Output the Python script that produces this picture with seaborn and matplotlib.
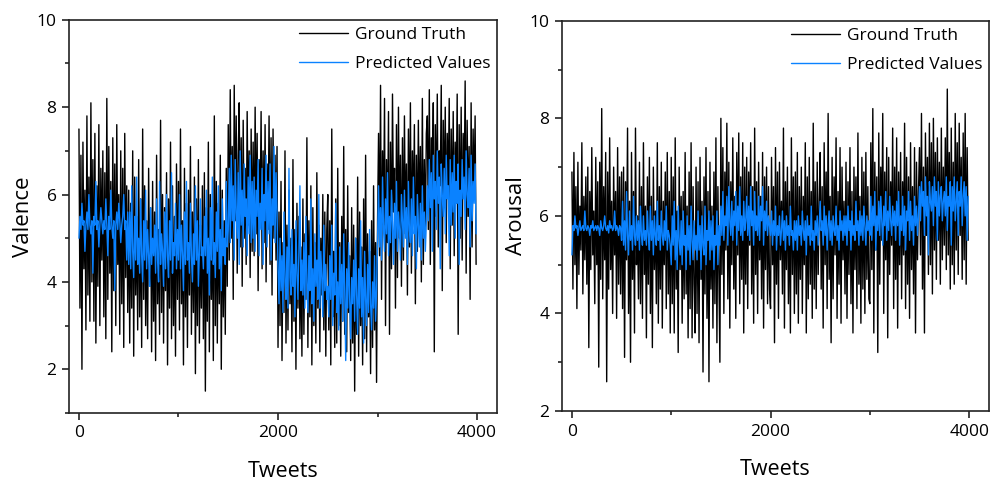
import numpy as np
import pandas as pd
import matplotlib
matplotlib.use("Agg")
import matplotlib.pyplot as plt
from matplotlib.ticker import MultipleLocator
import seaborn as sns

# valores lidos a cada 10 tweets (aprox.), 25 por linha = 250 tweets
valence_truth = [
    7.5, 3.4, 6.9, 2.0, 7.2, 4.3, 6.1, 2.9, 7.8, 3.7, 6.4, 3.1, 8.1, 4.0, 6.8, 3.1, 7.4, 2.6, 6.2, 3.9, 7.6, 3.0, 6.6, 4.5, 7.0,
    3.2, 6.5, 2.7, 8.2, 3.6, 7.1, 4.2, 6.3, 2.4, 7.3, 3.8, 6.7, 3.0, 7.6, 4.4, 6.0, 2.8, 7.0, 3.5, 6.6, 2.5, 7.4, 4.1, 6.2, 3.3,
    6.1, 2.6, 5.8, 3.4, 7.0, 2.3, 6.4, 3.7, 5.5, 2.9, 6.8, 3.2, 5.9, 2.5, 7.5, 3.6, 6.2, 3.0, 5.4, 2.7, 6.6, 3.9, 5.7, 2.4, 6.3,
    3.1, 5.6, 2.2, 6.9, 3.5, 5.2, 2.8, 7.7, 3.3, 6.0, 2.6, 5.7, 3.8, 6.5, 2.1, 5.9, 3.4, 7.2, 2.7, 6.2, 3.0, 5.5, 2.3, 6.7, 3.6,
    6.3, 2.9, 7.5, 3.5, 5.4, 2.1, 6.6, 3.2, 5.8, 2.5, 6.1, 3.7, 7.1, 2.8, 5.6, 3.3, 6.4, 1.9, 5.9, 3.0, 6.8, 2.6, 5.3, 3.4, 6.2,
    2.7, 6.5, 1.5, 5.7, 3.1, 7.2, 2.4, 6.0, 3.6, 5.5, 2.2, 7.8, 3.0, 6.3, 2.6, 5.8, 3.5, 6.9, 2.0, 6.1, 3.2, 5.4, 2.8, 6.6, 3.9,
    7.6, 4.5, 8.4, 5.0, 7.1, 3.6, 8.5, 5.4, 7.8, 4.2, 6.9, 8.1, 4.8, 7.3, 3.9, 7.7, 5.0, 6.6, 4.4, 7.9, 5.3, 7.0, 4.1, 7.5, 4.7,
    7.2, 4.6, 8.0, 5.1, 7.4, 3.8, 6.8, 5.5, 7.9, 4.3, 7.0, 4.9, 7.6, 4.0, 6.7, 5.2, 7.8, 4.4, 7.3, 3.7, 7.5, 5.0, 6.9, 4.5, 7.1,
    2.5, 5.6, 3.0, 6.3, 2.2, 4.9, 3.3, 7.0, 2.6, 5.3, 2.9, 6.1, 3.5, 5.0, 2.4, 6.8, 3.1, 5.2, 2.0, 5.8, 3.4, 5.5, 2.7, 4.8, 2.3,
    5.9, 2.8, 5.1, 3.6, 7.3, 2.5, 5.4, 3.2, 6.2, 2.1, 5.7, 3.0, 4.9, 2.6, 6.5, 3.4, 5.3, 2.4, 5.0, 3.7, 6.0, 2.9, 5.6, 2.3, 5.2,
    6.0, 2.9, 5.4, 2.1, 7.5, 3.2, 4.7, 2.5, 5.9, 2.6, 6.6, 3.0, 4.9, 2.3, 5.5, 3.1, 7.1, 2.8, 5.2, 2.4, 6.2, 3.3, 4.6, 2.2, 5.7,
    2.6, 5.3, 1.5, 5.0, 2.8, 6.4, 2.3, 5.6, 3.0, 4.8, 2.1, 5.9, 2.7, 6.9, 2.4, 5.1, 3.2, 4.7, 1.9, 5.4, 2.5, 6.2, 2.9, 4.9, 1.7,
    5.4, 7.4, 4.6, 8.5, 3.6, 7.0, 5.3, 8.2, 3.0, 6.8, 4.9, 7.9, 2.8, 7.2, 4.3, 8.3, 5.6, 6.6, 3.4, 7.6, 4.1, 8.0, 5.0, 6.9, 3.9,
    7.3, 4.5, 7.8, 5.1, 6.7, 3.7, 7.5, 4.8, 8.1, 4.2, 7.0, 5.4, 7.6, 3.5, 6.9, 4.7, 7.7, 5.2, 7.1, 4.0, 8.2, 4.4, 6.8, 5.0, 7.4,
    7.8, 5.2, 8.4, 4.4, 7.3, 6.0, 8.1, 2.4, 7.6, 5.5, 8.3, 4.8, 7.0, 6.2, 8.5, 3.8, 7.7, 5.7, 8.0, 4.9, 7.4, 6.1, 8.2, 4.3, 7.5,
    5.3, 7.9, 4.6, 7.2, 5.8, 8.3, 2.8, 7.6, 5.0, 8.0, 4.5, 7.4, 6.0, 8.6, 4.2, 7.7, 5.5, 7.1, 3.6, 8.1, 4.8, 7.5, 5.9, 7.8, 4.4,
]
valence_pred = [
    5.0, 5.5, 5.2, 5.8, 5.3, 5.4, 4.7, 5.3, 5.6, 5.2, 6.0, 5.3, 5.1, 5.4, 4.2, 5.5, 5.3, 6.3, 5.2, 5.4, 4.8, 5.3, 5.7, 5.4, 5.1,
    5.4, 5.2, 5.9, 5.3, 4.6, 5.5, 5.2, 6.1, 5.3, 5.0, 5.4, 3.8, 5.3, 5.6, 5.2, 5.8, 5.4, 4.9, 5.3, 5.5, 6.0, 5.2, 5.4, 4.5, 5.6,
    4.4, 5.6, 4.3, 6.2, 4.7, 4.1, 5.5, 4.5, 6.4, 4.4, 5.0, 4.2, 5.9, 4.6, 4.0, 5.4, 4.5, 6.1, 4.3, 5.2, 4.6, 3.9, 5.7, 4.4, 5.0,
    4.6, 5.3, 4.2, 5.9, 4.5, 4.0, 6.3, 4.4, 5.1, 4.7, 3.9, 5.6, 4.3, 6.0, 4.6, 4.1, 5.4, 4.5, 6.5, 4.2, 4.9, 4.6, 5.8, 4.3, 5.2,
    4.5, 6.0, 4.3, 5.3, 4.6, 3.8, 5.6, 4.4, 6.3, 4.5, 4.9, 4.2, 5.8, 4.6, 4.0, 5.1, 4.4, 6.2, 4.5, 5.4, 3.9, 4.7, 5.9, 4.6, 4.8,
    4.3, 5.5, 4.6, 6.1, 4.2, 5.0, 3.7, 5.7, 4.5, 6.4, 4.4, 4.9, 4.1, 5.6, 4.7, 6.2, 4.3, 5.2, 3.8, 5.9, 4.6, 5.0, 4.4, 6.3, 4.8,
    5.2, 6.6, 4.9, 6.9, 5.4, 6.2, 4.5, 6.8, 5.6, 5.0, 6.5, 4.4, 7.0, 5.3, 6.1, 4.8, 6.7, 5.5, 5.9, 4.6, 6.4, 5.1, 6.9, 4.9, 6.3,
    5.0, 6.4, 4.7, 6.1, 5.5, 6.8, 4.6, 5.8, 5.2, 6.6, 4.4, 6.0, 5.4, 6.9, 4.8, 6.3, 5.1, 6.7, 4.5, 5.9, 5.3, 7.1, 4.9, 6.5, 5.6,
    4.3, 3.5, 5.0, 3.8, 4.6, 3.3, 5.6, 4.0, 3.6, 4.8, 3.4, 6.6, 4.1, 3.7, 5.2, 3.9, 4.4, 3.2, 5.4, 4.2, 3.6, 4.7, 6.2, 3.8, 4.5,
    3.7, 4.9, 3.4, 5.5, 4.0, 3.3, 4.6, 3.8, 5.9, 3.5, 4.3, 3.1, 5.1, 3.9, 4.5, 3.6, 6.0, 3.4, 4.7, 4.1, 3.2, 5.3, 3.8, 4.4, 3.6,
    3.9, 3.2, 4.6, 3.6, 5.3, 3.0, 4.2, 3.7, 5.8, 3.3, 4.0, 2.9, 4.8, 3.5, 4.4, 3.1, 5.1, 3.8, 2.2, 4.3, 3.4, 4.9, 3.6, 2.7, 4.1,
    3.5, 4.5, 3.1, 5.0, 3.7, 2.8, 4.3, 3.4, 5.4, 3.2, 4.1, 2.6, 4.7, 3.6, 3.0, 4.4, 3.3, 5.2, 3.5, 2.9, 4.0, 3.4, 4.6, 3.1, 3.8,
    5.0, 6.2, 4.8, 5.7, 4.5, 6.4, 5.2, 4.7, 5.9, 5.1, 6.5, 4.6, 5.5, 4.9, 6.1, 5.3, 4.4, 5.8, 5.0, 6.3, 4.7, 5.6, 5.2, 4.5, 6.0,
    5.4, 4.8, 6.1, 5.0, 5.7, 4.4, 6.3, 5.2, 4.9, 5.9, 4.6, 6.4, 5.1, 5.5, 4.3, 6.0, 5.3, 4.8, 5.8, 4.5, 6.2, 5.0, 5.6, 4.7, 5.4,
    6.2, 5.4, 6.8, 5.7, 6.5, 4.7, 6.9, 5.9, 6.3, 5.2, 7.0, 5.8, 6.4, 4.3, 6.7, 6.0, 5.5, 6.6, 5.1, 6.9, 5.9, 6.2, 4.6, 6.8, 5.3,
    6.5, 5.6, 6.9, 5.0, 6.3, 5.8, 6.7, 4.4, 6.1, 5.5, 6.8, 5.9, 6.4, 5.2, 7.0, 6.0, 5.7, 6.6, 4.8, 6.9, 5.4, 6.3, 5.8, 6.7, 5.1,
]
arousal_truth = [
    6.9, 4.5, 7.3, 5.0, 6.6, 4.1, 7.1, 4.8, 6.2, 5.3, 7.5, 4.4, 6.4, 5.1, 6.8, 4.6, 7.0, 3.3, 6.5, 4.9, 7.4, 5.2, 6.1, 4.2, 7.2,
    5.0, 6.7, 2.9, 7.1, 4.7, 8.2, 4.3, 6.6, 5.1, 7.3, 2.6, 6.9, 4.5, 7.6, 4.9, 6.3, 4.0, 7.0, 5.2, 6.5, 3.9, 7.4, 4.6, 6.8, 4.4,
    6.9, 4.1, 7.0, 3.1, 6.7, 5.1, 7.8, 4.0, 6.3, 3.0, 7.3, 4.7, 6.5, 3.6, 7.8, 5.0, 6.0, 4.3, 7.1, 4.2, 6.6, 3.9, 7.5, 4.8, 6.2,
    3.5, 6.8, 4.6, 7.2, 4.0, 6.4, 3.3, 7.0, 4.9, 6.1, 4.2, 7.5, 3.8, 6.6, 4.5, 7.1, 3.7, 6.3, 5.0, 6.9, 4.1, 7.3, 4.4, 6.5, 3.6,
    7.2, 4.2, 6.8, 3.6, 7.6, 4.5, 6.1, 3.2, 7.0, 4.9, 6.4, 3.8, 6.5, 4.3, 7.3, 4.4, 6.2, 3.5, 6.9, 4.1, 7.5, 3.5, 6.6, 4.6, 3.6,
    7.0, 4.0, 6.7, 3.4, 7.2, 4.7, 6.3, 2.8, 6.8, 4.4, 7.4, 3.9, 6.5, 2.6, 7.1, 4.5, 6.2, 3.7, 6.9, 4.2, 7.6, 3.4, 6.6, 4.8, 3.0,
    8.0, 4.8, 7.4, 4.0, 6.9, 5.3, 7.9, 4.3, 7.1, 3.7, 6.7, 5.0, 7.6, 4.5, 6.4, 3.9, 7.3, 5.2, 7.7, 4.2, 6.8, 4.7, 7.5, 3.6, 7.0,
    4.6, 7.2, 4.1, 6.9, 5.4, 7.5, 4.4, 6.6, 3.8, 7.8, 4.8, 6.7, 4.0, 7.1, 5.1, 6.4, 4.3, 7.3, 3.7, 6.8, 4.9, 7.0, 4.2, 6.6, 4.5,
    4.1, 7.2, 5.0, 6.6, 3.4, 7.4, 4.6, 6.9, 3.9, 7.1, 5.1, 6.3, 4.4, 7.8, 3.7, 6.7, 4.9, 7.0, 4.2, 6.5, 3.6, 7.6, 4.8, 6.8, 4.0,
    6.9, 4.4, 7.3, 3.8, 6.6, 4.7, 7.0, 4.0, 6.4, 5.0, 7.5, 3.6, 6.8, 4.3, 7.2, 4.6, 6.5, 3.9, 7.9, 4.5, 6.7, 4.1, 7.1, 4.8, 6.3,
    7.3, 4.5, 6.6, 3.7, 7.5, 5.0, 6.9, 4.1, 8.1, 4.7, 6.4, 3.4, 7.2, 4.3, 6.8, 5.2, 7.6, 3.9, 6.5, 4.6, 7.4, 3.8, 7.0, 5.1, 6.3,
    4.4, 7.1, 3.9, 6.7, 4.8, 7.4, 4.2, 6.5, 3.6, 7.0, 4.9, 6.8, 4.1, 7.7, 4.6, 6.4, 3.8, 7.2, 4.5, 6.9, 4.0, 7.3, 4.7, 6.6, 4.3,
    4.2, 7.5, 4.9, 8.2, 3.6, 7.1, 5.3, 6.8, 3.2, 7.7, 4.6, 7.0, 5.5, 8.1, 4.0, 6.9, 5.1, 7.4, 3.5, 7.2, 4.8, 6.7, 5.4, 7.8, 4.1,
    7.0, 4.7, 7.6, 3.7, 6.9, 5.0, 7.3, 4.3, 6.7, 5.2, 7.9, 4.1, 7.2, 4.6, 6.8, 3.9, 7.5, 4.9, 6.6, 4.4, 7.4, 3.6, 7.1, 5.1, 6.5,
    7.4, 5.2, 8.1, 4.5, 7.0, 3.6, 7.7, 5.6, 7.2, 4.8, 7.9, 5.0, 7.5, 4.4, 8.0, 5.3, 7.3, 4.7, 7.6, 5.5, 7.1, 4.6, 7.8, 5.1, 7.0,
    5.4, 7.6, 4.9, 8.6, 5.2, 7.3, 4.5, 7.8, 5.0, 7.1, 4.6, 8.1, 5.3, 7.5, 4.8, 7.9, 5.6, 7.2, 4.7, 7.7, 5.1, 8.1, 4.6, 7.4, 5.5,
]
arousal_pred = [
    5.2, 5.8, 5.7, 6.0, 5.75, 5.8, 5.6, 5.75, 5.9, 5.7, 5.75, 5.8, 5.7, 6.1, 5.75, 5.7, 5.8, 5.75, 5.6, 5.8, 5.75, 5.9, 5.7, 5.75, 5.8,
    5.7, 5.8, 5.75, 5.6, 5.9, 5.75, 5.7, 5.8, 6.0, 5.75, 5.7, 5.8, 5.65, 5.9, 5.75, 5.8, 5.7, 5.75, 6.1, 5.7, 5.8, 5.75, 5.6, 5.8, 5.75,
    5.5, 6.3, 5.4, 5.9, 5.3, 6.5, 5.6, 5.2, 6.1, 5.5, 5.8, 5.3, 6.4, 5.6, 5.4, 6.0, 5.5, 5.9, 5.3, 6.2, 5.6, 5.4, 6.0, 5.5, 5.7,
    5.4, 6.1, 5.6, 5.3, 6.2, 5.5, 5.9, 5.2, 6.0, 5.6, 5.4, 6.3, 5.5, 5.8, 5.3, 6.1, 5.6, 5.4, 5.9, 5.5, 6.2, 5.3, 5.7, 5.6, 5.4,
    5.0, 6.0, 5.4, 6.3, 5.1, 5.7, 4.9, 6.2, 5.5, 5.2, 5.9, 5.0, 6.1, 5.4, 5.6, 4.9, 6.0, 5.3, 5.8, 5.0, 6.2, 5.5, 5.1, 5.9, 5.3,
    5.6, 5.1, 6.1, 5.3, 5.8, 4.9, 6.0, 5.4, 5.2, 6.2, 5.0, 5.7, 5.5, 6.1, 5.1, 5.9, 5.3, 6.0, 4.9, 5.6, 5.4, 6.1, 5.0, 5.8, 5.4,
    6.2, 5.6, 6.5, 5.5, 6.0, 5.8, 6.4, 5.4, 6.6, 5.9, 5.6, 6.3, 5.5, 6.1, 5.8, 6.5, 5.4, 6.2, 5.7, 6.6, 5.6, 6.0, 5.5, 6.3, 5.7,
    5.9, 6.4, 5.6, 6.2, 5.5, 6.6, 5.8, 6.1, 5.4, 6.5, 5.7, 6.0, 5.6, 6.4, 5.5, 6.2, 5.9, 6.6, 5.4, 6.1, 5.7, 6.3, 5.6, 6.0, 5.8,
    5.6, 6.1, 5.4, 5.9, 5.6, 6.2, 5.3, 5.8, 5.6, 6.0, 5.4, 5.7, 6.1, 5.5, 5.9, 5.3, 6.0, 5.6, 5.8, 5.4, 6.2, 5.6, 5.7, 5.3, 5.9,
    5.5, 5.9, 5.3, 6.0, 5.6, 5.8, 5.4, 6.1, 5.7, 5.5, 5.9, 5.2, 6.0, 5.6, 5.8, 5.4, 6.2, 5.5, 5.7, 5.3, 5.9, 5.6, 6.0, 5.4, 5.8,
    6.3, 5.7, 5.9, 5.4, 6.2, 5.6, 6.0, 5.3, 5.8, 6.1, 5.5, 5.9, 5.4, 6.0, 5.7, 5.6, 6.2, 5.5, 5.8, 5.3, 6.1, 5.7, 5.9, 5.5, 6.0,
    5.6, 6.0, 5.4, 6.2, 5.7, 5.9, 5.3, 6.1, 5.6, 5.8, 5.5, 6.3, 5.7, 5.9, 5.4, 6.1, 5.6, 6.0, 5.5, 6.2, 5.8, 5.4, 6.0, 5.7, 5.9,
    5.6, 6.4, 5.5, 6.2, 5.8, 6.5, 5.3, 6.0, 5.7, 6.3, 5.6, 6.4, 5.9, 5.4, 6.2, 5.8, 6.5, 5.5, 6.1, 5.7, 6.4, 5.9, 5.6, 6.2, 5.8,
    6.1, 5.5, 6.3, 5.8, 6.5, 5.4, 6.0, 5.7, 6.4, 5.6, 6.2, 5.3, 6.1, 5.9, 6.5, 5.5, 6.3, 5.7, 6.0, 5.4, 6.4, 5.8, 6.2, 5.6, 6.0,
    6.6, 5.9, 6.7, 6.2, 6.5, 5.6, 6.8, 6.0, 6.4, 5.2, 6.7, 6.3, 6.1, 6.6, 5.8, 6.8, 6.2, 6.5, 5.5, 6.7, 6.0, 6.4, 6.6, 5.9, 6.3,
    6.5, 6.0, 6.8, 5.7, 6.4, 6.2, 6.7, 5.4, 6.6, 6.1, 6.8, 5.9, 6.3, 6.7, 5.6, 6.5, 6.2, 6.8, 5.8, 6.4, 6.7, 6.0, 6.6, 5.5, 6.4,
]
passo = 10

sns.set_theme(style="ticks")
plt.rcParams['font.family'] = ['Open Sans', 'DejaVu Sans']

AZUL = "#0a82ff"

def painel(ax, verdade, previsto, rotulo, ylim):
    df_v = pd.DataFrame({"Tweets": np.arange(len(verdade)) * passo, "valor": verdade})
    df_p = pd.DataFrame({"Tweets": np.arange(len(previsto)) * passo, "valor": previsto})
    sns.lineplot(data=df_v, x="Tweets", y="valor", ax=ax, color="black",
                 lw=1.0, label="Ground Truth")
    sns.lineplot(data=df_p, x="Tweets", y="valor", ax=ax, color=AZUL,
                 lw=1.0, label="Predicted Values")
    ax.set_xlim(-100, 4200)
    ax.set_ylim(*ylim)
    ax.xaxis.set_major_locator(MultipleLocator(2000))
    ax.xaxis.set_minor_locator(MultipleLocator(1000))
    ax.yaxis.set_major_locator(MultipleLocator(2))
    ax.yaxis.set_minor_locator(MultipleLocator(1))
    ax.tick_params(which="major", length=5, width=1.2, labelsize=12.5, direction="out",
                   pad=4, colors="#222222", labelcolor="black")
    ax.tick_params(which="minor", length=3, width=1.2, direction="out", colors="#222222")
    for s in ax.spines.values():
        s.set_linewidth(1.2)
        s.set_color("#222222")
    ax.set_xlabel("Tweets", fontsize=15.5, labelpad=14, color="black")
    ax.set_ylabel(rotulo, fontsize=16, labelpad=2, color="black")
    leg = ax.legend(loc="upper right", frameon=False, fontsize=12.5,
                    handlelength=2.8, handletextpad=0.4, labelspacing=0.75,
                    borderaxespad=0.2, borderpad=0.2)
    for t in leg.get_texts():
        t.set_color("black")
    for l in leg.get_lines():
        l.set_linewidth(1.0)

fig = plt.figure(figsize=(10, 4.83), dpi=100)
ax1 = fig.add_axes([0.069, 0.145, 0.428, 0.814])
ax2 = fig.add_axes([0.562, 0.149, 0.427, 0.808])
painel(ax1, valence_truth, valence_pred, "Valence", (1, 10))
painel(ax2, arousal_truth, arousal_pred, "Arousal", (2, 10))

fig.savefig("out.png", dpi=100)
